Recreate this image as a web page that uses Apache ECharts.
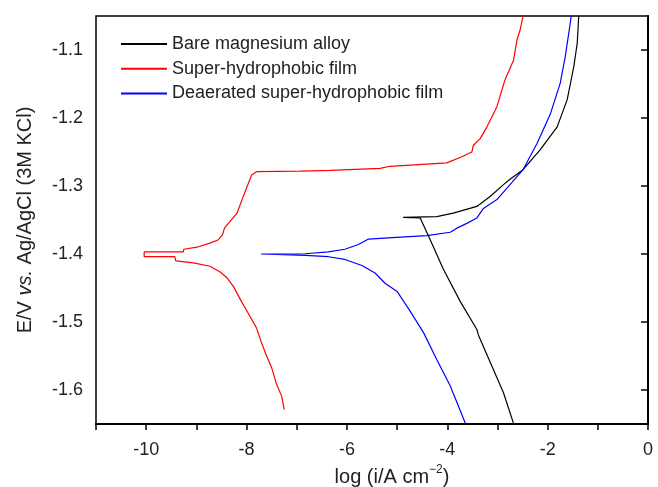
<!DOCTYPE html>
<html>
<head>
<meta charset="utf-8">
<title>Polarization curves</title>
<script src="https://cdn.jsdelivr.net/npm/echarts@6.0.0/dist/echarts.min.js"></script>
<style>
  html, body { margin: 0; padding: 0; background: #fff; }
  #chart { width: 658px; height: 487px; }
</style>
</head>
<body>
<div id="chart"></div>
<script>
const seriesNames = ['Bare magnesium alloy', 'Super-hydrophobic film', 'Deaerated super-hydrophobic film']

// log(i / A cm^-2) and E/V pairs (cathodic branch first, then anodic)
const bareLogI = [-2.68, -2.88, -3.14, -3.38, -3.41, -3.74, -4.08, -4.34, -4.54, -4.88,
  -4.21, -3.88, -3.41, -3.14, -2.88, -2.75, -2.49, -2.15, -1.81, -1.61, -1.48, -1.41, -1.38]
const bareE = [-1.649, -1.604, -1.560, -1.519, -1.511, -1.470, -1.422, -1.379, -1.347, -1.346,
  -1.345, -1.340, -1.330, -1.315, -1.298, -1.290, -1.276, -1.247, -1.213, -1.173, -1.125, -1.090, -1.050]

const filmLogI = [-7.25, -7.30, -7.40, -7.50, -7.60, -7.70, -7.80, -7.93, -8.10, -8.26, -8.39, -8.53, -8.73,
  -9.06, -9.41, -9.43, -10.04, -10.04, -9.26, -9.25, -8.99, -8.73, -8.56, -8.48, -8.44, -8.33, -8.19,
  -8.09, -7.99, -7.90, -7.80, -6.93, -6.33, -5.34, -5.14, -4.01, -3.71, -3.51, -3.48, -3.34, -3.21,
  -3.04, -3.01, -2.85, -2.68, -2.61, -2.55, -2.49]
const filmE = [-1.629, -1.609, -1.592, -1.567, -1.550, -1.531, -1.509, -1.492, -1.470, -1.448, -1.435, -1.426, -1.418,
  -1.413, -1.410, -1.404, -1.404, -1.397, -1.397, -1.393, -1.390, -1.384, -1.379, -1.372, -1.362, -1.352, -1.340,
  -1.320, -1.301, -1.284, -1.279, -1.278, -1.277, -1.274, -1.271, -1.266, -1.257, -1.250, -1.240, -1.230, -1.213,
  -1.188, -1.183, -1.144, -1.115, -1.085, -1.071, -1.050]

const deaeratedLogI = [-3.64, -3.94, -4.21, -4.47, -4.74, -5.00, -5.24, -5.44, -5.70, -6.04, -6.37, -6.83, -7.71,
  -6.83, -6.37, -6.04, -5.77, -5.57, -5.10, -4.41, -3.94, -3.81, -3.61, -3.41, -3.28, -3.01, -2.75,
  -2.49, -2.21, -1.95, -1.75, -1.65, -1.58, -1.53]
const deaeratedE = [-1.649, -1.594, -1.555, -1.516, -1.484, -1.455, -1.443, -1.428, -1.417, -1.408, -1.404, -1.402, -1.400,
  -1.3996, -1.397, -1.393, -1.386, -1.378, -1.376, -1.373, -1.368, -1.362, -1.355, -1.347, -1.333, -1.320, -1.298,
  -1.276, -1.237, -1.195, -1.149, -1.110, -1.076, -1.050]

const xTickValues = [-10, -8, -6, -4, -2, 0]
const yTickValues = [-1.6, -1.5, -1.4, -1.3, -1.2, -1.1]

const colors = ['#000000', '#ff0000', '#0000ff']
const font = '"Liberation Sans", Arial, sans-serif'

function zip(xs, ys) {
  return xs.map((x, i) => [x, ys[i]])
}

const chart = echarts.init(document.getElementById('chart'))
chart.setOption({
  animation: false,
  backgroundColor: '#fff',
  textStyle: { fontFamily: font },
  grid: {
    left: 96, right: 10, top: 16, bottom: 63,
    outerBoundsMode: 'none',
    show: true, borderColor: '#000', borderWidth: 1.5
  },
  legend: {
    orient: 'vertical',
    left: 120, top: 35,
    padding: 0,
    itemWidth: 46, itemHeight: 18, itemGap: 6.7,
    itemStyle: { opacity: 0 },
    textStyle: { fontSize: 18, color: '#222', fontFamily: font },
    data: seriesNames
  },
  xAxis: {
    type: 'value',
    min: -11, max: 0, interval: 1,
    name: '{t|log (i/A cm}{s|−2}{t|)}',
    nameLocation: 'middle',
    nameGap: 38,
    nameTextStyle: {
      padding: [0, 0, 0, 40],
      rich: {
        t: { fontSize: 20, color: '#222', fontFamily: font, lineHeight: 24, verticalAlign: 'bottom' },
        s: { fontSize: 12, color: '#222', fontFamily: font, lineHeight: 24, verticalAlign: 'top' }
      }
    },
    axisLine: { lineStyle: { color: '#000', width: 2 } },
    axisTick: { inside: false, length: 6, lineStyle: { color: '#000', width: 1.5 } },
    axisLabel: {
      fontSize: 18, color: '#222', margin: 17,
      formatter: v => (xTickValues.includes(v) ? String(v) : '')
    },
    splitLine: { show: false }
  },
  yAxis: {
    type: 'value',
    min: -1.65, max: -1.05,
    name: '{t|E/V }{i|vs.}{t| Ag/AgCl (3M KCl)}',
    nameLocation: 'middle',
    nameGap: 61,
    nameTextStyle: {
      rich: {
        t: { fontSize: 20, color: '#222', fontFamily: font },
        i: { fontSize: 20, color: '#222', fontFamily: font, fontStyle: 'italic' }
      }
    },
    axisLine: { lineStyle: { color: '#000', width: 2 } },
    axisTick: { inside: false, length: 7, customValues: yTickValues, lineStyle: { color: '#000', width: 1.5 } },
    axisLabel: { fontSize: 18, color: '#222', margin: 13, customValues: yTickValues },
    splitLine: { show: false }
  },
  series: [
    { name: seriesNames[0], data: zip(bareLogI, bareE) },
    { name: seriesNames[1], data: zip(filmLogI, filmE) },
    { name: seriesNames[2], data: zip(deaeratedLogI, deaeratedE) }
  ].map((s, i) => ({
    ...s,
    type: 'line',
    symbol: 'none',
    color: colors[i],
    lineStyle: { color: colors[i], width: 1.2 }
  }))
})
</script>
</body>
</html>
